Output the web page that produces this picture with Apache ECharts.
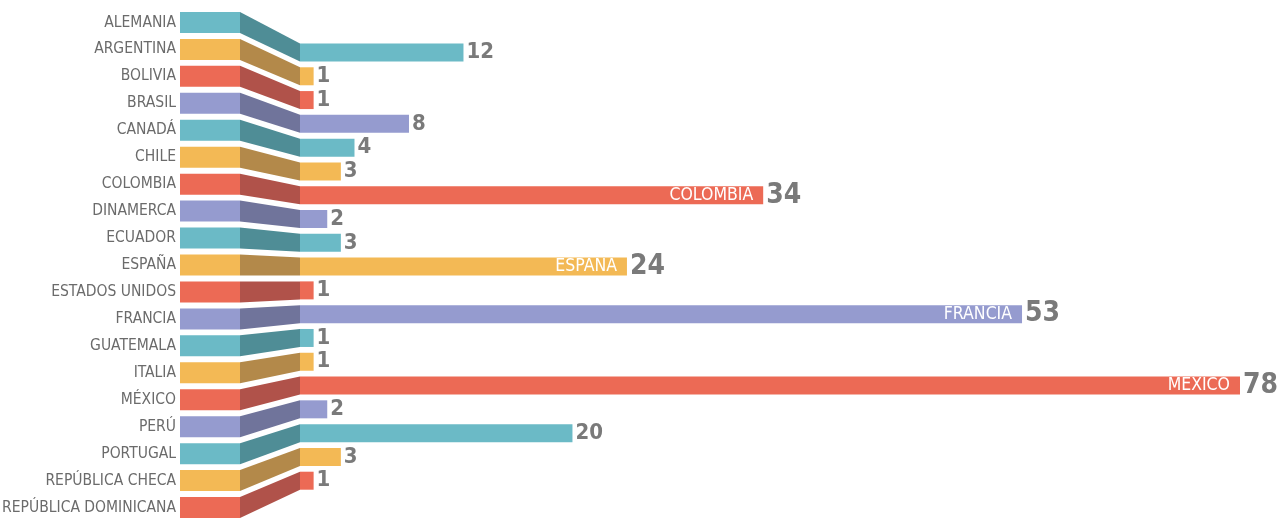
<!DOCTYPE html>
<html>
<head>
<meta charset="utf-8">
<script src="https://cdn.jsdelivr.net/npm/echarts@6/dist/echarts.min.js"></script>
<style>
  html, body { margin: 0; padding: 0; background: #fff; }
  #main { width: 1280px; height: 519px; }
</style>
</head>
<body>
<div id="main"></div>
<script>
// datos
var countries = ['ALEMANIA', 'ARGENTINA', 'BOLIVIA', 'BRASIL', 'CANADÁ', 'CHILE', 'COLOMBIA',
  'DINAMERCA', 'ECUADOR', 'ESPAÑA', 'ESTADOS UNIDOS', 'FRANCIA', 'GUATEMALA', 'ITALIA',
  'MÉXICO', 'PERÚ', 'PORTUGAL', 'REPÚBLICA CHECA', 'REPÚBLICA DOMINICANA'];
var values = [12, 1, 1, 8, 4, 3, 34, 2, 3, 24, 1, 53, 1, 1, 78, 2, 20, 3, 1];
var palette = ['#6bbac6', '#f3b955', '#ec6a55', '#959bcf'];
var darkPalette = ['#4f8d96', '#b3894a', '#b0524a', '#70749b'];

var FONT = "'Liberation Sans Narrow', 'DejaVu Sans Condensed', 'Roboto', sans-serif";
var BLOCK_H = 21;
var BAR_H = 18;

function colorOf(i) { return palette[i % palette.length]; }

var chart = echarts.init(document.getElementById('main'));

var option = {
  animation: false,
  grid: [
    // bloques de la izquierda
    { left: 180, width: 60, top: 9, height: 512, outerBoundsMode: 'none' },
    // barras
    { left: 300, width: 940, top: 40.6, height: 452, outerBoundsMode: 'none' }
  ],
  xAxis: [
    { gridIndex: 0, type: 'value', min: 0, max: 1, show: false },
    { gridIndex: 1, type: 'value', min: 0, max: 69, show: false }
  ],
  yAxis: [
    {
      gridIndex: 0, type: 'category', inverse: true, data: countries,
      axisLine: { show: false }, axisTick: { show: false },
      axisLabel: { color: '#6b6b6b', fontSize: 15.5, fontFamily: FONT, margin: 4 }
    },
    {
      gridIndex: 1, type: 'category', inverse: true, data: countries, show: false
    }
  ],
  series: [
    {
      type: 'bar', xAxisIndex: 0, yAxisIndex: 0, barWidth: BLOCK_H,
      data: countries.map(function (c, i) {
        return { value: 1, itemStyle: { color: colorOf(i) } };
      })
    },
    {
      type: 'bar', xAxisIndex: 1, yAxisIndex: 1, barWidth: BAR_H, barGap: '-100%',
      data: values.map(function (v, i) {
        return {
          value: v,
          itemStyle: { color: colorOf(i) },
          label: { fontSize: v >= 24 ? 28 : 22 }
        };
      }),
      label: {
        show: true, position: 'right', distance: 3,
        color: '#7a7a7a', fontWeight: 'bold', fontFamily: FONT
      }
    },
    {
      // nombres dentro de las barras largas
      type: 'bar', xAxisIndex: 1, yAxisIndex: 1, barWidth: BAR_H, barGap: '-100%',
      silent: true,
      data: values,
      itemStyle: { color: 'rgba(0,0,0,0)' },
      label: {
        show: true, position: 'insideRight', distance: 10,
        color: '#fff', fontSize: 17.5, fontFamily: FONT,
        formatter: function (p) { return p.value >= 24 ? p.name : ''; }
      }
    }
  ]
};
chart.setOption(option);

// conectores entre bloque y barra
var links = countries.map(function (c, i) {
  var a = chart.convertToPixel({ gridIndex: 0 }, [1, i]);
  var b = chart.convertToPixel({ gridIndex: 1 }, [0, i]);
  return [a[0], a[1], b[0], b[1], i];
});

chart.setOption({
  series: option.series.concat([{
    type: 'custom',
    coordinateSystem: 'none',
    silent: true,
    data: links,
    renderItem: function (params, api) {
      var x1 = api.value(0), y1 = api.value(1);
      var x2 = api.value(2), y2 = api.value(3);
      var i = api.value(4);
      return {
        type: 'polygon',
        shape: {
          points: [
            [x1, y1 - BLOCK_H / 2], [x2, y2 - BAR_H / 2],
            [x2, y2 + BAR_H / 2], [x1, y1 + BLOCK_H / 2]
          ]
        },
        style: { fill: darkPalette[i % darkPalette.length] }
      };
    }
  }])
});
</script>
</body>
</html>
